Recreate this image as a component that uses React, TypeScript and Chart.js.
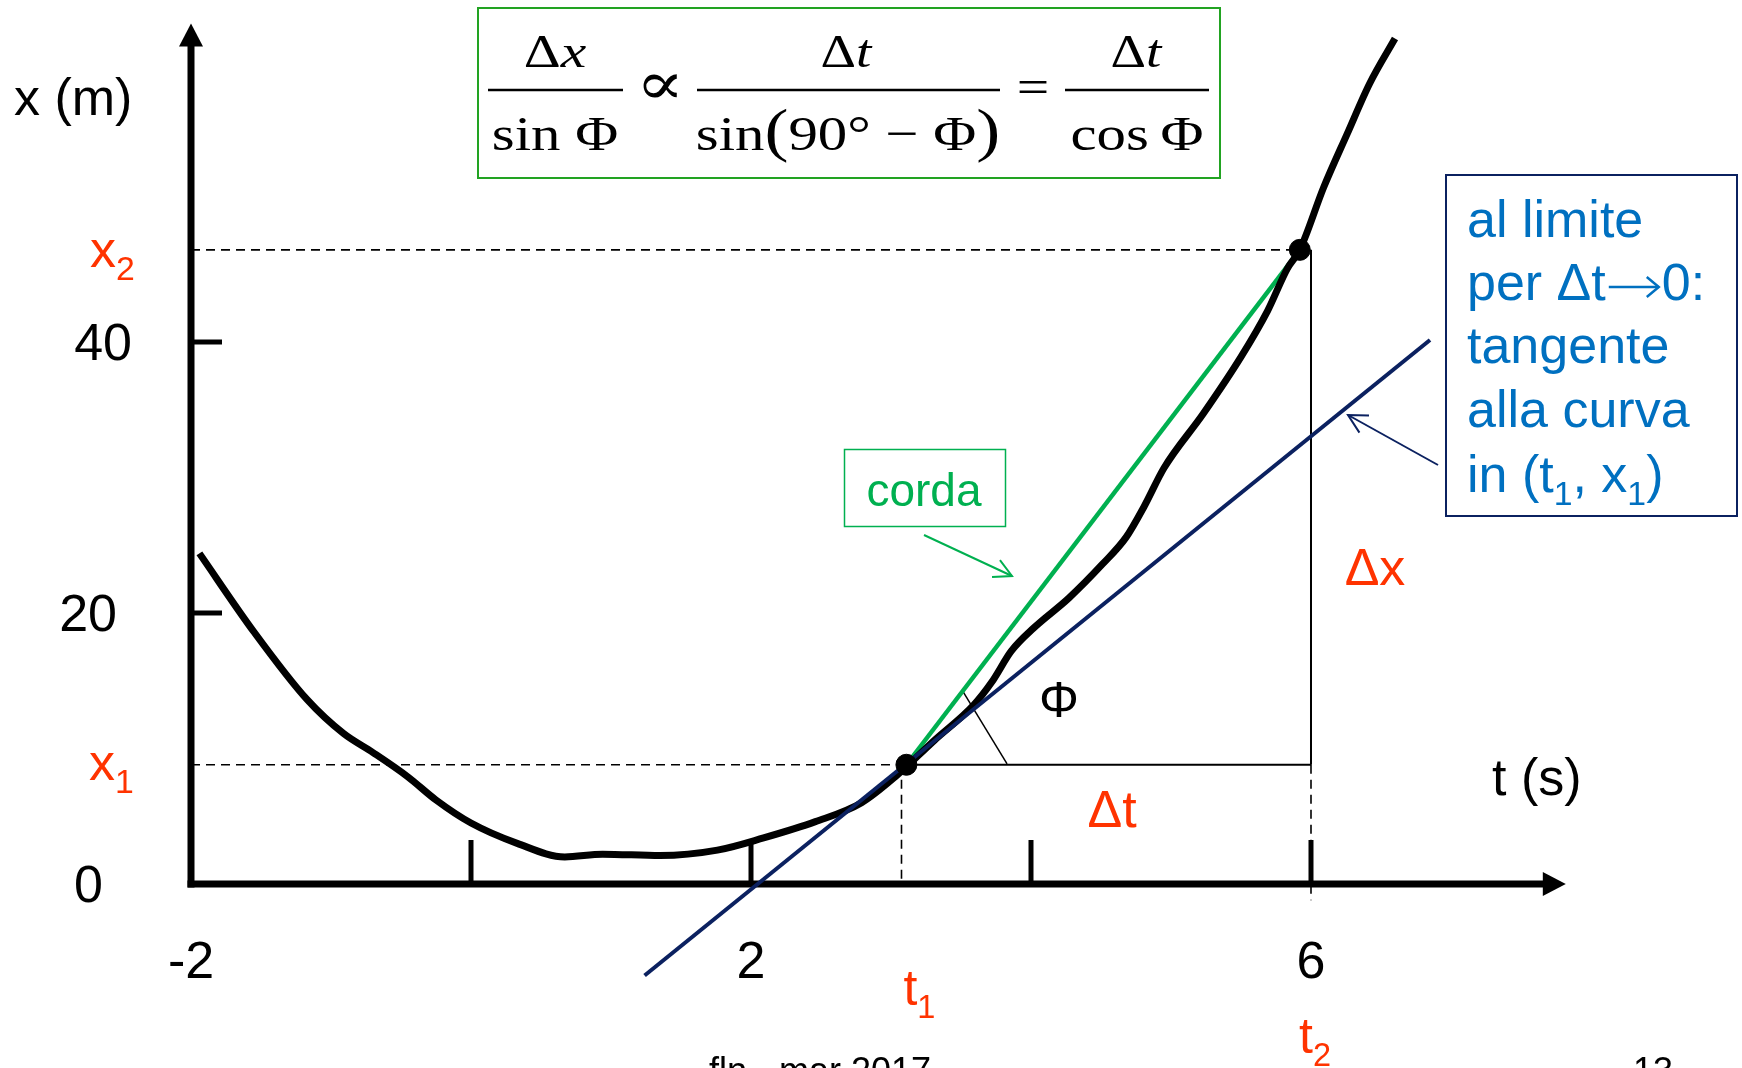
import React, { useEffect, useRef } from "react";
import { Chart, registerables } from "chart.js";

Chart.register(...registerables);

// ---------- data ----------
const curveT = [-1.94, -1.55, -1.17, -0.91, -0.7, -0.45, -0.25, 0.0, 0.33, 0.67, 0.94, 1.35, 1.76, 2.09, 2.46, 2.79, 3.04, 3.31, 3.59, 3.72, 3.86, 4.02, 4.27, 4.51, 4.68, 4.81, 4.95, 5.23, 5.5, 5.69, 5.83, 5.92, 6.09, 6.26, 6.42, 6.6];
const curveX = [24.4, 18.6, 13.6, 11.1, 9.7, 7.9, 6.2, 4.5, 3.0, 2.0, 2.2, 2.1, 2.5, 3.4, 4.6, 6.0, 8.0, 10.6, 13.2, 14.9, 17.2, 18.9, 21.1, 23.6, 25.6, 27.9, 30.7, 34.7, 38.9, 42.3, 45.4, 46.8, 51.4, 55.4, 59.1, 62.4];

const markerT = [3.11, 5.92]; // (t1, x1), (t2, x2)
const markerX = [8.8, 46.8];
const t2Line = 6;
const belowAxisX = -1.2;

const tangentT = [1.24, 6.85];
const tangentX = [-6.75, 40.15];

const phiLineT = [3.507, 3.829];
const phiLineX = [14.32, 8.86];

const axisOriginT = -2;
const axisEndT = 7.82;
const axisEndX = 63.5;

const xTickValues = [0, 2, 4, 6];
const xLabelValues = [-2, 2, 6];
const xLabelTexts = ["-2", "2", "6"];
const yTickValues = [20, 40];
const yLabelValues = [0, 20, 40];
const yLabelTexts = ["0", "20", "40"];

const scaleX = { min: -3.3643, max: 9.0786 };
const scaleY = { min: -13.58, max: 65.24 };

// ---------- styles ----------
const SANS = "'Liberation Sans', Arial, 'DejaVu Sans', sans-serif";
const SERIF = "'Liberation Serif', 'Times New Roman', 'DejaVu Serif', serif";
const RED = "#FF3300";
const GREEN = "#00B050";
const NAVY = "#0B2160";
const BLUE_TEXT = "#0070C0";
const FORMULA_GREEN = "#22A322";

type Seg = { t: string; sub?: boolean; arrow?: number };
type MSeg = { t: string; i?: boolean; s?: number };

function rich(ctx: CanvasRenderingContext2D, segs: Seg[], x: number, y: number, size: number, color: string) {
  let cx = x;
  ctx.fillStyle = color;
  ctx.strokeStyle = color;
  ctx.textAlign = "left";
  ctx.textBaseline = "alphabetic";
  for (const s of segs) {
    if (s.arrow) {
      const ay = y - 13;
      const x1 = cx + 3;
      const x2 = cx + s.arrow - 3;
      ctx.lineWidth = 2.5;
      ctx.beginPath();
      ctx.moveTo(x1, ay);
      ctx.lineTo(x2, ay);
      ctx.stroke();
      ctx.beginPath();
      ctx.moveTo(x2 - 12, ay - 10);
      ctx.lineTo(x2, ay);
      ctx.lineTo(x2 - 12, ay + 10);
      ctx.stroke();
      cx += s.arrow;
      continue;
    }
    const fs = s.sub ? size * 0.65 : size;
    ctx.font = `${fs}px ${SANS}`;
    ctx.fillText(s.t, cx, s.sub ? y + size * 0.25 : y);
    cx += ctx.measureText(s.t).width;
  }
}

function math(ctx: CanvasRenderingContext2D, segs: MSeg[], cx: number, y: number, size: number, sx: number) {
  ctx.fillStyle = "#000";
  ctx.textAlign = "left";
  ctx.textBaseline = "alphabetic";
  const fontOf = (s: MSeg) => `${s.i ? "italic " : ""}${s.s ?? size}px ${SERIF}`;
  const ws: number[] = [];
  let total = 0;
  for (const s of segs) {
    ctx.font = fontOf(s);
    const w = ctx.measureText(s.t).width * sx;
    ws.push(w);
    total += w;
  }
  let x = cx - total / 2;
  segs.forEach((s, k) => {
    ctx.font = fontOf(s);
    ctx.save();
    ctx.translate(x, y);
    ctx.scale(sx, 1);
    ctx.fillText(s.t, 0, 0);
    ctx.restore();
    x += ws[k];
  });
}

function line(ctx: CanvasRenderingContext2D, x1: number, y1: number, x2: number, y2: number) {
  ctx.beginPath();
  ctx.moveTo(x1, y1);
  ctx.lineTo(x2, y2);
  ctx.stroke();
}

function arrowHead(ctx: CanvasRenderingContext2D, fx: number, fy: number, tx: number, ty: number, len: number, ang: number) {
  const a = Math.atan2(fy - ty, fx - tx);
  ctx.beginPath();
  ctx.moveTo(tx + len * Math.cos(a + ang), ty + len * Math.sin(a + ang));
  ctx.lineTo(tx, ty);
  ctx.lineTo(tx + len * Math.cos(a - ang), ty + len * Math.sin(a - ang));
  ctx.stroke();
}

const decorPlugin = {
  id: "decor",
  beforeDatasetsDraw(chart: any) {
    const ctx: CanvasRenderingContext2D = chart.ctx;
    const xs = chart.scales.x;
    const ys = chart.scales.y;
    const x0 = xs.getPixelForValue(axisOriginT);
    const y0 = ys.getPixelForValue(0);
    const xe = xs.getPixelForValue(axisEndT);
    const ye = ys.getPixelForValue(axisEndX);
    ctx.save();
    ctx.strokeStyle = "#000";
    ctx.fillStyle = "#000";
    ctx.lineCap = "butt";
    // axes
    ctx.lineWidth = 7;
    line(ctx, x0, y0 + 3.5, x0, ye + 22);
    line(ctx, x0 - 3.5, y0, xe - 22, y0);
    ctx.beginPath();
    ctx.moveTo(x0, ye);
    ctx.lineTo(x0 - 12, ye + 23);
    ctx.lineTo(x0 + 12, ye + 23);
    ctx.closePath();
    ctx.fill();
    ctx.beginPath();
    ctx.moveTo(xe, y0);
    ctx.lineTo(xe - 23, y0 - 12);
    ctx.lineTo(xe - 23, y0 + 12);
    ctx.closePath();
    ctx.fill();
    // ticks
    ctx.lineWidth = 5;
    for (const v of xTickValues) {
      const px = xs.getPixelForValue(v);
      line(ctx, px, y0, px, y0 - 44);
    }
    for (const v of yTickValues) {
      const py = ys.getPixelForValue(v);
      line(ctx, x0, py, x0 + 31, py);
    }
    // tick labels
    ctx.font = `52px ${SANS}`;
    ctx.textBaseline = "alphabetic";
    ctx.textAlign = "center";
    xLabelValues.forEach((v, k) => {
      ctx.fillText(xLabelTexts[k], xs.getPixelForValue(v), y0 + 94);
    });
    const yRight: Record<string, number> = { "0": 103, "20": 117, "40": 132 };
    ctx.textAlign = "right";
    yLabelValues.forEach((v, k) => {
      ctx.fillText(yLabelTexts[k], yRight[yLabelTexts[k]] ?? 120, ys.getPixelForValue(v) + 18.5);
    });
    ctx.restore();
  },
  afterDatasetsDraw(chart: any) {
    const ctx: CanvasRenderingContext2D = chart.ctx;
    const xs = chart.scales.x;
    const ys = chart.scales.y;
    ctx.save();
    // axis titles
    rich(ctx, [{ t: "x (m)" }], 14, 115, 52, "#000");
    rich(ctx, [{ t: "t (s)" }], 1492, 795, 52, "#000");
    // red labels
    rich(ctx, [{ t: "x" }, { t: "2", sub: true }], 90, ys.getPixelForValue(markerX[1]) + 17, 52, RED);
    rich(ctx, [{ t: "x" }, { t: "1", sub: true }], 89, ys.getPixelForValue(markerX[0]) + 15, 52, RED);
    rich(ctx, [{ t: "t" }, { t: "1", sub: true }], xs.getPixelForValue(markerT[0]) - 3, 1005, 50, RED);
    rich(ctx, [{ t: "t" }, { t: "2", sub: true }], xs.getPixelForValue(t2Line) - 12, 1053, 50, RED);
    ctx.font = `52px ${SANS}`;
    ctx.fillStyle = RED;
    ctx.textAlign = "center";
    ctx.fillText("Δt", 1112, 827);
    ctx.fillText("Δx", 1375, 585);
    ctx.fillStyle = "#000";
    ctx.font = `50px ${SANS}`;
    ctx.fillText("Φ", 1059, 717);

    // corda box + arrow
    ctx.strokeStyle = GREEN;
    ctx.lineWidth = 1.5;
    ctx.strokeRect(844.5, 449.5, 161, 77);
    ctx.fillStyle = GREEN;
    ctx.font = `46px ${SANS}`;
    ctx.textAlign = "center";
    ctx.fillText("corda", 924, 506);
    ctx.lineWidth = 2;
    line(ctx, 924, 535, 1012, 576);
    arrowHead(ctx, 924, 535, 1012, 576, 20, (28 * Math.PI) / 180);

    // blue box
    ctx.strokeStyle = NAVY;
    ctx.lineWidth = 2;
    ctx.strokeRect(1446, 175, 291, 341);
    rich(ctx, [{ t: "al limite" }], 1467, 237, 52, BLUE_TEXT);
    rich(ctx, [{ t: "per Δt" }, { t: "", arrow: 56 }, { t: "0:" }], 1467, 300, 52, BLUE_TEXT);
    rich(ctx, [{ t: "tangente" }], 1467, 363, 52, BLUE_TEXT);
    rich(ctx, [{ t: "alla curva" }], 1467, 427, 52, BLUE_TEXT);
    rich(ctx, [{ t: "in (t" }, { t: "1", sub: true }, { t: ", x" }, { t: "1", sub: true }, { t: ")" }], 1467, 492, 52, BLUE_TEXT);
    ctx.strokeStyle = NAVY;
    ctx.lineWidth = 2;
    line(ctx, 1438, 465, 1348, 415);
    arrowHead(ctx, 1438, 465, 1348, 415, 21, (28 * Math.PI) / 180);

    // formula box
    ctx.strokeStyle = FORMULA_GREEN;
    ctx.lineWidth = 2;
    ctx.strokeRect(478, 8, 742, 170);
    const nf = 46;
    const df = 49;
    const sx = 1.2;
    ctx.strokeStyle = "#000";
    ctx.lineWidth = 2.5;
    line(ctx, 488, 90, 623, 90);
    line(ctx, 697, 90, 1000, 90);
    line(ctx, 1065, 90, 1209, 90);
    math(ctx, [{ t: "Δ" }, { t: "x", i: true }], 555, 67, nf, 1.25);
    math(ctx, [{ t: "sin " }, { t: "Φ" }], 555, 150, df, sx);
    math(ctx, [{ t: "∝" }], 660, 104, 60, 1.2);
    math(ctx, [{ t: "Δ" }, { t: "t", i: true }], 846, 67, nf, sx);
    math(ctx, [{ t: "sin" }, { t: "(", s: 60 }, { t: "90° − Φ" }, { t: ")", s: 60 }], 848, 150, df, sx);
    math(ctx, [{ t: "=" }], 1033, 103, 48, 1.2);
    math(ctx, [{ t: "Δ" }, { t: "t", i: true }], 1136, 67, nf, sx);
    math(ctx, [{ t: "cos\u2009Φ" }], 1137, 150, df, sx);

    // footer
    ctx.fillStyle = "#000";
    ctx.font = `36px ${SANS}`;
    ctx.textAlign = "left";
    ctx.fillText("fln - mar 2017", 709, 1083);
    ctx.fillText("13", 1633, 1083);
    ctx.restore();
  },
};

export default function App() {
  const ref = useRef<HTMLCanvasElement | null>(null);

  useEffect(() => {
    if (!ref.current) return;
    const pts = (ts: number[], xv: number[]) => ts.map((t, k) => ({ x: t, y: xv[k] }));
    const thin = {
      borderColor: "#000",
      borderWidth: 2,
      pointRadius: 0,
      showLine: true,
      fill: false,
      order: 5,
    };
    const chart = new Chart(ref.current, {
      type: "scatter",
      data: {
        datasets: [
          {
            data: pts(markerT, markerX),
            pointRadius: 10.5,
            pointBackgroundColor: "#000",
            pointBorderColor: "#000",
            showLine: false,
            order: 0,
          } as any,
          {
            data: pts(tangentT, tangentX),
            borderColor: NAVY,
            borderWidth: 4,
            pointRadius: 0,
            showLine: true,
            order: 1,
          },
          {
            data: pts(curveT, curveX),
            borderColor: "#000",
            borderWidth: 7,
            pointRadius: 0,
            showLine: true,
            cubicInterpolationMode: "monotone",
            borderJoinStyle: "round",
            borderCapStyle: "butt",
            order: 2,
          } as any,
          {
            data: pts(markerT, markerX),
            borderColor: GREEN,
            borderWidth: 4.5,
            pointRadius: 0,
            showLine: true,
            order: 3,
          },
          { ...thin, data: [{ x: markerT[0], y: markerX[0] }, { x: t2Line, y: markerX[0] }] },
          { ...thin, data: [{ x: t2Line, y: markerX[1] }, { x: t2Line, y: markerX[0] }] },
          { ...thin, borderWidth: 1.5, data: pts(phiLineT, phiLineX) },
          { ...thin, borderWidth: 1.6, borderDash: [9, 6], data: [{ x: axisOriginT, y: markerX[0] }, { x: markerT[0], y: markerX[0] }] },
          { ...thin, borderWidth: 1.6, borderDash: [9, 6], data: [{ x: axisOriginT, y: markerX[1] }, { x: markerT[1], y: markerX[1] }] },
          { ...thin, borderWidth: 1.6, borderDash: [9, 6], data: [{ x: markerT[0] - 0.035, y: markerX[0] }, { x: markerT[0] - 0.035, y: 0 }] },
          { ...thin, borderWidth: 1.6, borderDash: [9, 6], data: [{ x: t2Line, y: markerX[0] }, { x: t2Line, y: belowAxisX }] },
        ] as any,
      },
      options: {
        animation: false,
        responsive: false,
        maintainAspectRatio: false,
        events: [],
        layout: { padding: 0, autoPadding: false },
        plugins: {
          legend: { display: false },
          tooltip: { enabled: false },
          title: { display: false },
        },
        scales: {
          x: { type: "linear", min: scaleX.min, max: scaleX.max, display: false },
          y: { type: "linear", min: scaleY.min, max: scaleY.max, display: false },
        },
      } as any,
      plugins: [decorPlugin as any],
    });
    return () => chart.destroy();
  }, []);

  return (
    <div style={{ position: "fixed", left: 0, top: 0, width: 1742, height: 1068, background: "#fff" }}>
      <canvas ref={ref} width={1742} height={1068} style={{ display: "block", width: 1742, height: 1068 }} />
    </div>
  );
}
